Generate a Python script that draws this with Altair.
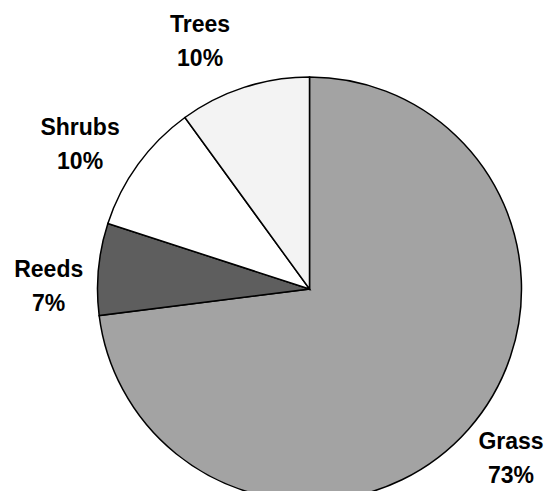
import altair as alt
import pandas as pd

categories = ["Grass", "Reeds", "Shrubs", "Trees"]
values = [73, 7, 10, 10]
colors = ["#a3a3a3", "#5e5e5e", "#ffffff", "#f3f3f3"]
order = [1, 2, 3, 4]

df = pd.DataFrame({
    "cat": categories,
    "val": values,
    "ord": order,
    "label": [f"{c}\n{v}%" for c, v in zip(categories, values)],
})

CX, CY = 301.5, 281
label_offsets = {"Grass": (-1, -19), "Reeds": (8, 13), "Shrubs": (-11, 5), "Trees": (-26, 0)}

base = alt.Chart(df).encode(
    theta=alt.Theta("val:Q", stack=True),
    order=alt.Order("ord:Q"),
    x=alt.value(CX),
    y=alt.value(CY),
)

pie = base.mark_arc(radius=212, stroke="black", strokeWidth=1.5).encode(
    color=alt.Color("cat:N", scale=alt.Scale(domain=categories, range=colors), legend=None),
)

layers = [pie]
for cat in categories:
    dx, dy = label_offsets[cat]
    layers.append(
        base.mark_text(radius=270, dx=dx, dy=dy, fontSize=23, fontWeight="bold",
                       font="Liberation Sans", lineBreak="\n", lineHeight=34,
                       baseline="alphabetic", color="black").encode(
            text=alt.condition(f"datum.cat == '{cat}'", "label:N", alt.value(""))
        )
    )

chart = alt.layer(*layers).properties(
    width=538, height=483, padding=0, autosize=alt.AutoSizeParams(type="none")
).configure_view(stroke=None)

chart.save("out.html", embed_options={"renderer": "svg", "actions": False})
